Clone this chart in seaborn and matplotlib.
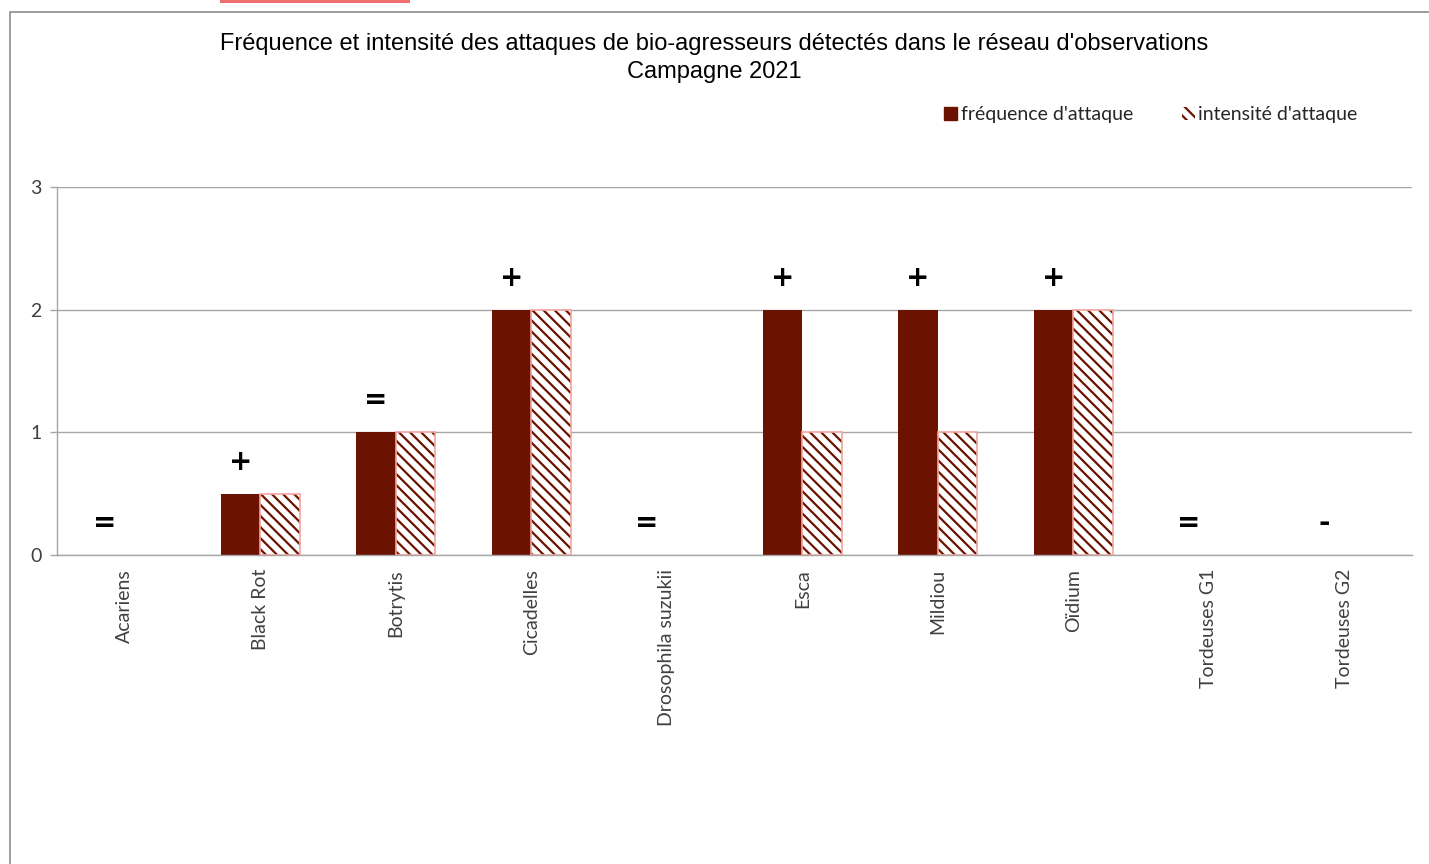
import numpy as np
import pandas as pd
import seaborn as sns
import matplotlib.pyplot as plt
from matplotlib.patches import Patch, Rectangle

categories = ["Acariens", "Black Rot", "Botrytis", "Cicadelles", "Drosophila suzukii",
              "Esca", "Mildiou", "Oïdium", "Tordeuses G1", "Tordeuses G2"]
frequence = [0, 0.5, 1, 2, 0, 2, 2, 2, 0, 0]
intensite = [0, 0.5, 1, 2, 0, 1, 1, 2, 0, 0]
tendance = ["=", "+", "=", "+", "=", "+", "+", "+", "=", "-"]
series = ["fréquence d'attaque", "intensité d'attaque"]

maroon = "#6b1300"
pink = "#f2a49c"
gray = "#a6a6a6"

df = pd.DataFrame({
    "cat": categories * 2,
    "val": frequence + intensite,
    "serie": [series[0]] * len(categories) + [series[1]] * len(categories),
})

sns.set_theme(style="white")
plt.rcParams["font.family"] = ["Lato", "DejaVu Sans"]
plt.rcParams["hatch.linewidth"] = 1.6

fig = plt.figure(figsize=(14.29, 8.64), dpi=100)
ax = fig.add_axes([0.0399, 0.3576, 0.9482, 0.426])

sns.barplot(data=df, x="cat", y="val", hue="serie", palette=[maroon, "white"],
            width=0.58, saturation=1, legend=False, ax=ax)

for p in ax.containers[0]:
    p.set_linewidth(0)
for p in ax.containers[1]:
    p.set_hatch("\\\\\\")
    p.set_edgecolor(maroon)
    p.set_linewidth(0)
    if p.get_height() > 0:
        ax.add_patch(Rectangle(p.get_xy(), p.get_width(), p.get_height(),
                               fill=False, edgecolor=pink, lw=1.2, zorder=3))

# symboles d'évolution au-dessus de la barre de fréquence
for p, f, i, t in zip(ax.containers[0], frequence, intensite, tendance):
    xc = p.get_x() + p.get_width() / 2
    ax.text(xc, max(f, i) + 0.26, t, ha="center", va="center",
            fontsize=20, fontweight="bold", family="DejaVu Sans", color="black")

ax.set_ylim(0, 3)
ax.set_xlim(-0.5, len(categories) - 0.5)
ax.set_yticks([0, 1, 2, 3])
ax.set_yticklabels(["0", "1", "2", "3"], fontsize=14, color="#404040")
ax.yaxis.grid(True, color=gray, lw=1)
ax.set_axisbelow(True)
ax.set_xlabel("")
ax.set_ylabel("")
ax.set_xticks(range(len(categories)))
ax.set_xticklabels(categories, rotation=90, fontsize=14, color="#404040")
ax.tick_params(axis="x", length=0, pad=10)
ax.set_xticks(np.arange(-0.5, len(categories)), minor=True)
ax.tick_params(axis="x", which="minor", length=7, color=gray, width=1, direction="out")
ax.tick_params(axis="y", length=5, color=gray, width=1, direction="out", left=True, pad=6)
for s in ["top", "right"]:
    ax.spines[s].set_visible(False)
for s in ["left", "bottom"]:
    ax.spines[s].set_color(gray)
    ax.spines[s].set_linewidth(1)

fig.text(0.5, 0.949, "Fréquence et intensité des attaques de bio-agresseurs détectés dans le réseau d'observations",
         ha="center", va="center", fontsize=17, family="Liberation Sans", color="black")
fig.text(0.5, 0.917, "Campagne 2021", ha="center", va="center", fontsize=17,
         family="Liberation Sans", color="black")

handles = [Patch(facecolor=maroon, edgecolor=maroon),
           Patch(facecolor="white", edgecolor=maroon, hatch="\\\\\\", lw=0)]
fig.legend(handles, series, loc="center", bbox_to_anchor=(0.8055, 0.867), ncol=2,
           frameon=False, fontsize=14, handlelength=0.65, handleheight=0.65,
           handletextpad=0.2, columnspacing=2.5)

# cadre du graphique
fig.add_artist(Rectangle((10 / 1429, -0.01), 1.0, 1 - 12 / 864 + 0.01, transform=fig.transFigure,
                         fill=False, edgecolor="#8c8c8c", lw=1.2))
fig.add_artist(Rectangle((220 / 1429, 1 - 3 / 864), 190 / 1429, 3 / 864, transform=fig.transFigure,
                         facecolor="#f07070", lw=0))

fig.savefig("out.png", dpi=100)
